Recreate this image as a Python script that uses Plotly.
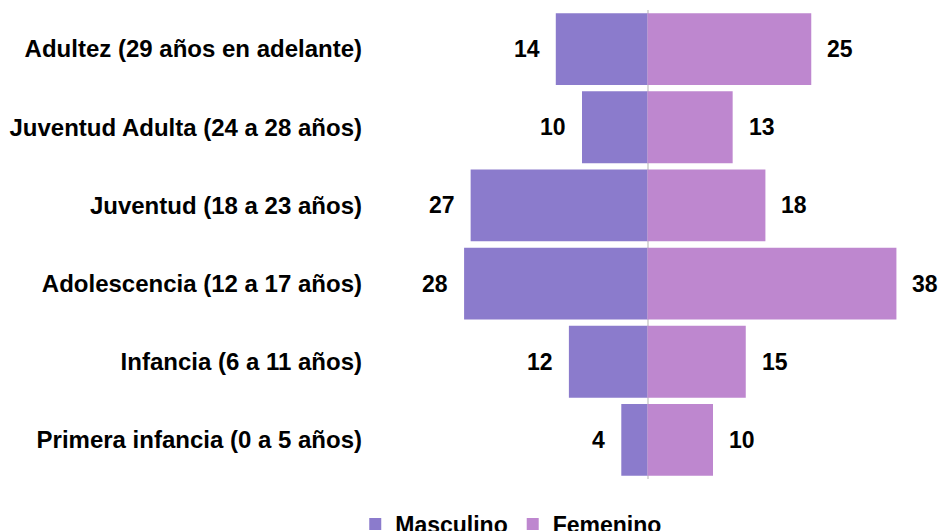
import plotly.graph_objects as go

categories = ["Primera infancia (0 a 5 años)", "Infancia (6 a 11 años)",
              "Adolescencia (12 a 17 años)", "Juventud (18 a 23 años)",
              "Juventud Adulta (24 a 28 años)", "Adultez (29 años en adelante)"]
masculino = [4, 12, 28, 27, 10, 14]
femenino = [10, 15, 38, 18, 13, 25]

C_M = "#8B7BCC"
C_F = "#BE87CF"
FONT = "Liberation Sans, Arial, sans-serif"
FS = 23
FS_CAT = 24

fig = go.Figure()
fig.add_trace(go.Bar(y=categories, x=[-v for v in masculino], orientation="h",
                     name="<b>Masculino</b>", marker=dict(color=C_M, line=dict(width=0)),
                     hoverinfo="skip"))
fig.add_trace(go.Bar(y=categories, x=femenino, orientation="h",
                     name="<b>Femenino</b>", marker=dict(color=C_F, line=dict(width=0)),
                     hoverinfo="skip"))

for c, v in zip(categories, masculino):
    fig.add_annotation(x=-v, y=c, text=f"<b>{v}</b>", showarrow=False,
                       xanchor="right", xshift=-14, font=dict(size=FS, color="black", family=FONT))
for c, v in zip(categories, femenino):
    fig.add_annotation(x=v, y=c, text=f"<b>{v}</b>", showarrow=False,
                       xanchor="left", xshift=14, font=dict(size=FS, color="black", family=FONT))

fig.update_layout(
    width=941, height=531,
    barmode="relative", bargap=0.08,
    plot_bgcolor="white", paper_bgcolor="white",
    margin=dict(l=375, r=21, t=10, b=52, autoexpand=False),
    font=dict(family=FONT, size=FS, color="black"),
    xaxis=dict(range=[-41.6, 41.6], showticklabels=False, showgrid=False,
               zeroline=True, zerolinecolor="#D9D9D9", zerolinewidth=2, fixedrange=True),
    yaxis=dict(showgrid=False, zeroline=False, ticklabelstandoff=12, automargin=False,
               tickfont=dict(size=FS_CAT, family=FONT, color="black"),
               tickvals=categories, ticktext=[f"<b>{c}</b>" for c in categories]),
    legend=dict(orientation="h", xref="paper", yref="paper",
                x=0.25, xanchor="center", y=-0.05, yanchor="top",
                font=dict(size=FS, family=FONT, color="black"),
                itemclick=False, traceorder="normal"),
    showlegend=True,
)

fig.write_html("out.html", config={"displayModeBar": False},
               post_script="document.body.style.margin='0';document.body.style.overflow='hidden';")
